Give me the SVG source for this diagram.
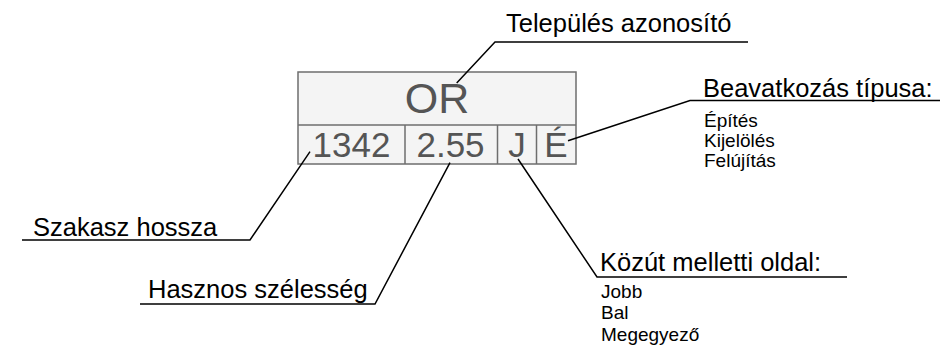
<svg xmlns="http://www.w3.org/2000/svg" width="941" height="360" viewBox="0 0 941 360">
<style>
.cell{fill:#f4f4f4;stroke:#6e6e6e;stroke-width:1.5}
.div{stroke:#6e6e6e;stroke-width:1.5;fill:none}
.val{font-family:"Liberation Sans",Arial,sans-serif;fill:#555;text-anchor:middle}
.lead{stroke:#000;stroke-width:1.5;fill:none}
.hd{font-family:"Liberation Sans",Arial,sans-serif;font-size:25.5px;fill:#000}
.it{font-family:"Liberation Sans",Arial,sans-serif;font-size:19px;fill:#000}
</style>
<rect width="941" height="360" fill="#fff"/>
<g id="box">
<rect class="cell" x="298" y="72" width="278" height="92"/>
<line class="div" x1="298" y1="125" x2="576" y2="125"/>
<line class="div" x1="405" y1="125" x2="405" y2="164"/>
<line class="div" x1="497.5" y1="125" x2="497.5" y2="164"/>
<line class="div" x1="536.5" y1="125" x2="536.5" y2="164"/>
<text class="val" x="437" y="113" font-size="43">OR</text>
<text class="val" x="351.5" y="157" font-size="35">1342</text>
<text class="val" x="450.5" y="157" font-size="35">2.55</text>
<text class="val" x="517" y="157" font-size="35">J</text>
<text class="val" x="556" y="157" font-size="35">É</text>
</g>
<g id="connectors">
<polyline class="lead" points="456.7,83 495,42 748,42"/>
<polyline class="lead" points="568,140.7 690,100.5 940,100.5"/>
<polyline class="lead" points="310,151.7 250,240 22,240"/>
<polyline class="lead" points="450,162.7 375,304 140,304"/>
<polyline class="lead" points="518,159 597,277 847,277"/>
</g>
<g id="label-telepules">
<text class="hd" x="506" y="32">Település azonosító</text>
</g>
<g id="label-beavatkozas">
<text class="hd" x="703" y="97">Beavatkozás típusa:</text>
<text class="it" x="704" y="127">Építés</text>
<text class="it" x="704" y="147">Kijelölés</text>
<text class="it" x="704" y="167">Felújítás</text>
</g>
<g id="label-szakasz">
<text class="hd" x="33" y="236">Szakasz hossza</text>
</g>
<g id="label-hasznos">
<text class="hd" x="148" y="298">Hasznos szélesség</text>
</g>
<g id="label-kozut">
<text class="hd" x="600" y="271">Közút melletti oldal:</text>
<text class="it" x="601" y="298">Jobb</text>
<text class="it" x="601" y="319">Bal</text>
<text class="it" x="601" y="341">Megegyező</text>
</g>
</svg>
